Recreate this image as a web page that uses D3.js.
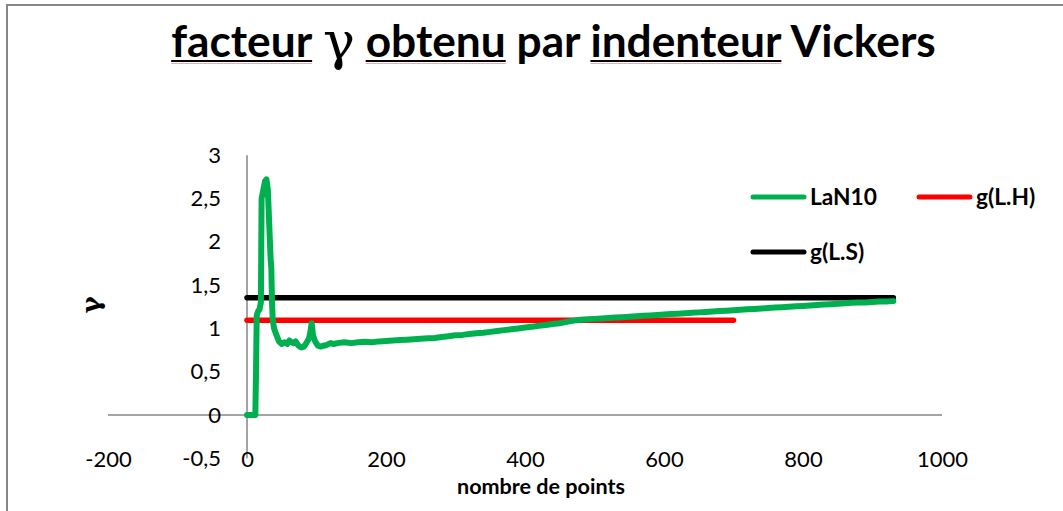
<!DOCTYPE html>
<html>
<head>
<meta charset="utf-8">
<script src="https://cdn.jsdelivr.net/npm/d3@7"></script>
<style>
  html, body { margin: 0; padding: 0; background: #fff; }
  svg { display: block; font-family: Lato, "Open Sans", sans-serif; }
</style>
</head>
<body>
<svg id="chart" width="1063" height="511"></svg>
<script>
// ---- data ----
const xTicks = [-200, 0, 200, 400, 600, 800, 1000];
const yTicks = [-0.5, 0, 0.5, 1, 1.5, 2, 2.5, 3];

// LaN10 measurement series (point index, gamma)
const lanX = [0, 5, 10, 12, 13, 14, 16, 18, 20, 21, 23, 26, 28, 30, 32, 34, 35, 36, 37, 39,
  42, 46, 50, 54, 58, 61, 64, 67, 70, 74, 78, 82, 86, 89, 91, 93,
  95, 98, 102, 106, 110, 115, 120, 125, 130, 140, 150, 160, 170, 180, 190, 200, 210, 220, 230, 240,
  250, 260, 270, 280, 290, 300, 310, 320, 330, 340, 350, 360, 370, 380, 390, 400, 410, 420, 430, 440,
  450, 460, 470, 480, 490, 500, 510, 520, 530, 540, 550, 560, 570, 580, 590, 600, 610, 620, 630, 640,
  650, 660, 670, 680, 690, 700, 710, 720, 730, 740, 750, 760, 770, 780, 790, 800, 810, 820, 830, 840,
  850, 860, 870, 880, 890, 900, 910, 920, 930];
const lanY = [0, 0, 0, 0, 0.5, 1.15, 1.2, 1.22, 1.3, 2.5, 2.58, 2.7, 2.72, 2.6, 2.2, 1.8, 1.7, 1.3, 1.1, 1.0,
  0.93, 0.85, 0.82, 0.84, 0.82, 0.86, 0.84, 0.83, 0.85, 0.8, 0.78, 0.79, 0.84, 0.88, 0.95, 1.06,
  0.92, 0.85, 0.8, 0.79, 0.8, 0.81, 0.83, 0.82, 0.83, 0.84, 0.83, 0.84, 0.845, 0.84, 0.85, 0.855, 0.86, 0.865, 0.87, 0.875,
  0.88, 0.885, 0.89, 0.9, 0.91, 0.92, 0.925, 0.935, 0.945, 0.95, 0.96, 0.97, 0.98, 0.99, 1.0, 1.01, 1.02, 1.03, 1.04, 1.05,
  1.06, 1.075, 1.09, 1.1, 1.105, 1.11, 1.115, 1.12, 1.125, 1.13, 1.135, 1.14, 1.145, 1.15, 1.155, 1.16, 1.165, 1.17, 1.175, 1.18,
  1.185, 1.19, 1.195, 1.2, 1.205, 1.21, 1.215, 1.22, 1.225, 1.23, 1.235, 1.24, 1.245, 1.25, 1.255, 1.26, 1.265, 1.27, 1.275, 1.28,
  1.285, 1.29, 1.295, 1.3, 1.3, 1.305, 1.31, 1.31, 1.315];

// reference levels
const lhX = [0, 700];
const lhY = [1.095, 1.095];
const lsX = [0, 930];
const lsY = [1.355, 1.355];

const seriesNames = ["LaN10", "g(L.H)", "g(L.S)"];
const seriesColors = ["#00B050", "#FF0000", "#000000"];

// ---- layout ----
const svg = d3.select("#chart");
const axisGrey = "#868686";

const x = d3.scaleLinear().domain([-200, 1000]).range([108, 942]);
const y = d3.scaleLinear().domain([-0.5, 3]).range([458.3, 155.2]);

// outer frame (left and top edges)
svg.append("path")
  .attr("d", "M7,511 V5 H1063")
  .attr("fill", "none")
  .attr("stroke", axisGrey)
  .attr("stroke-width", 2);

// fit a text node to a target width by scaling its font size
function fitWidth(sel, target) {
  const fs = parseFloat(sel.attr("font-size"));
  const w = sel.node().getComputedTextLength();
  sel.attr("font-size", (fs * target / w).toFixed(2));
}

// ---- title (condensed horizontally to its box width) ----
const titleG = svg.append("g");
const title = titleG.append("text")
  .attr("x", 0).attr("y", 57)
  .attr("text-anchor", "middle")
  .attr("font-size", 43)
  .attr("font-weight", "bold")
  .attr("fill", "#000");
const titleParts = [
  { t: "facteur", u: true }, { t: " ", u: false },
  { t: "γ", u: false, greek: true }, { t: " ", u: false },
  { t: "obtenu", u: true }, { t: " par ", u: false },
  { t: "indenteur", u: true }, { t: " Vickers", u: false }
];
titleParts.forEach((p, i) => {
  const s = title.append("tspan").text(p.t);
  if (p.greek) {
    s.attr("font-family", "'DejaVu Serif', 'Liberation Serif', serif")
      .attr("font-weight", "normal").attr("font-size", 52).attr("dy", 2);
  } else if (i === 3) {
    s.attr("dy", -2);
  }
});
const titleW = title.node().getComputedTextLength();
titleG.attr("transform", `translate(553.5,0) scale(${763 / titleW},1)`);

// underline the marked words
let charIndex = 0;
const tnode = title.node();
titleParts.forEach(p => {
  if (p.u) {
    const start = tnode.getStartPositionOfChar(charIndex).x;
    const end = tnode.getEndPositionOfChar(charIndex + p.t.length - 1).x;
    titleG.append("line")
      .attr("x1", start).attr("x2", end)
      .attr("y1", 61).attr("y2", 61)
      .attr("stroke", "#000").attr("stroke-width", 2);
    titleG.append("line")
      .attr("x1", start).attr("x2", end)
      .attr("y1", 63.5).attr("y2", 63.5)
      .attr("stroke", "#f2a8ac").attr("stroke-width", 1.2);
  }
  charIndex += p.t.length;
});

// ---- axes ----
svg.append("line")
  .attr("x1", x(0)).attr("x2", x(0))
  .attr("y1", y(3)).attr("y2", y(-0.5))
  .attr("stroke", axisGrey).attr("stroke-width", 1.5);
svg.append("line")
  .attr("x1", x(-200)).attr("x2", x(1000))
  .attr("y1", y(0)).attr("y2", y(0))
  .attr("stroke", axisGrey).attr("stroke-width", 1.5);

const fmt = d => String(d).replace(".", ",");

const yAxis = svg.append("g")
  .attr("transform", `translate(${x(0)},0)`)
  .call(d3.axisLeft(y).tickValues(yTicks).tickFormat(fmt).tickSize(0).tickPadding(26));
yAxis.select(".domain").remove();
yAxis.selectAll("text")
  .attr("font-family", "Lato, sans-serif").attr("font-size", 22).attr("fill", "#000");

const xAxis = svg.append("g")
  .attr("transform", `translate(0,451.5)`)
  .call(d3.axisBottom(x).tickValues(xTicks).tickFormat(fmt).tickSize(0).tickPadding(0));
xAxis.select(".domain").remove();
xAxis.selectAll("text")
  .attr("font-family", "Lato, sans-serif").attr("font-size", 22).attr("fill", "#000");

// axis titles
const xTitle = svg.append("text")
  .attr("x", 541).attr("y", 494)
  .attr("text-anchor", "middle")
  .attr("font-size", 19).attr("font-weight", "bold")
  .text("nombre de points");
fitWidth(xTitle, 168);

svg.append("text")
  .attr("transform", "translate(100,305) rotate(-90)")
  .attr("text-anchor", "middle")
  .attr("font-family", "'DejaVu Serif', 'Liberation Serif', serif")
  .attr("font-size", 26).attr("font-weight", "bold")
  .text("γ");

// ---- series ----
const line = d3.line().x(d => x(d[0])).y(d => y(d[1]));
const series = [
  d3.zip(lanX, lanY),
  d3.zip(lhX, lhY),
  d3.zip(lsX, lsY)
];
const plot = svg.append("g");
[1, 2, 0].forEach(i => {
  plot.append("path")
    .datum(series[i])
    .attr("d", line)
    .attr("fill", "none")
    .attr("stroke", seriesColors[i])
    .attr("stroke-width", i === 0 ? 6 : 5.5)
    .attr("stroke-linejoin", "round")
    .attr("stroke-linecap", "round");
});

// ---- legend ----
const legendItems = [
  { i: 0, x: 753, y: 197 },
  { i: 1, x: 919, y: 197 },
  { i: 2, x: 753, y: 252 }
];
const legend = svg.append("g");
legendItems.forEach(it => {
  legend.append("line")
    .attr("x1", it.x).attr("x2", it.x + 51)
    .attr("y1", it.y).attr("y2", it.y)
    .attr("stroke", seriesColors[it.i]).attr("stroke-width", 5)
    .attr("stroke-linecap", "round");
  const t = legend.append("text")
    .attr("x", it.x + 57).attr("y", it.y + 8)
    .attr("font-size", 22).attr("font-weight", "bold")
    .text(seriesNames[it.i]);
  if (it.i === 0) fitWidth(t, 67);
  else t.attr("font-size", legend.select("text").attr("font-size"));
});
</script>
</body>
</html>
